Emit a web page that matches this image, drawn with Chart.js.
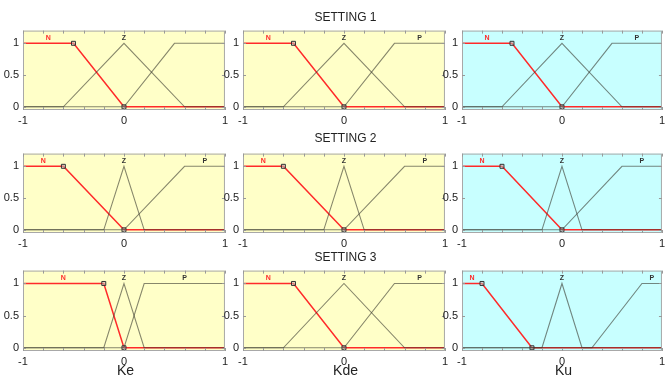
<!DOCTYPE html>
<html>
<head>
<meta charset="utf-8">
<script src="https://cdn.jsdelivr.net/npm/chart.js@4/dist/chart.umd.min.js"></script>
<style>
  body { margin: 0; background: #fff; width: 667px; height: 376px; overflow: hidden; position: relative; font-family: 'Liberation Sans', Arial, sans-serif; }
  canvas { position: absolute; }
  .title { position: absolute; font-size: 12px; color: #222; transform: translate(-50%, -50%); white-space: nowrap; }
  .axt { position: absolute; font-size: 14px; color: #222; transform: translate(-50%, -50%); }
</style>
</head>
<body>
<script>
// axis / labels
const xTicks = [-1, 0, 1];
const yTicks = [0, 0.5, 1];
const xMinor = [-1, -0.8, -0.6, -0.4, -0.2, 0, 0.2, 0.4, 0.6, 0.8, 1];
const settingNames = ['SETTING 1', 'SETTING 2', 'SETTING 3'];
const varNames = ['Ke', 'Kde', 'Ku'];
const mfNames = ['N', 'Z', 'P'];

// membership function shapes (y values)
const nY = [1, 1, 0, 0];
const zY = [0, 0, 1, 0, 0];
const pY = [0, 0, 1, 1];

// x breakpoints per panel
const s1KeN = [-1, -0.5, 0, 1],  s1KeZ = [-1, -0.6, 0, 0.6, 1], s1KeP = [-1, 0, 0.5, 1];
const s1KdeN = [-1, -0.5, 0, 1], s1KdeZ = [-1, -0.6, 0, 0.6, 1], s1KdeP = [-1, 0, 0.5, 1];
const s1KuN = [-1, -0.5, 0, 1],  s1KuZ = [-1, -0.6, 0, 0.6, 1], s1KuP = [-1, 0, 0.5, 1];
const s2KeN = [-1, -0.6, 0, 1],  s2KeZ = [-1, -0.2, 0, 0.2, 1], s2KeP = [-1, 0, 0.6, 1];
const s2KdeN = [-1, -0.6, 0, 1], s2KdeZ = [-1, -0.2, 0, 0.2, 1], s2KdeP = [-1, 0, 0.6, 1];
const s2KuN = [-1, -0.6, 0, 1],  s2KuZ = [-1, -0.2, 0, 0.2, 1], s2KuP = [-1, 0, 0.6, 1];
const s3KeN = [-1, -0.2, 0, 1],  s3KeZ = [-1, -0.2, 0, 0.2, 1], s3KeP = [-1, 0, 0.2, 1];
const s3KdeN = [-1, -0.5, 0, 1], s3KdeZ = [-1, -0.6, 0, 0.6, 1], s3KdeP = [-1, 0, 0.5, 1];
const s3KuN = [-1, -0.8, -0.3, 1], s3KuZ = [-1, -0.2, 0, 0.2, 1], s3KuP = [-1, 0.3, 0.8, 1];

// which labels are shown (P is missing on the first panel)
const s1KeShown = [true, true, false];

const panels = [
  [s1KeN, s1KeZ, s1KeP, s1KeShown], [s1KdeN, s1KdeZ, s1KdeP], [s1KuN, s1KuZ, s1KuP],
  [s2KeN, s2KeZ, s2KeP], [s2KdeN, s2KdeZ, s2KdeP], [s2KuN, s2KuZ, s2KuP],
  [s3KeN, s3KeZ, s3KeP], [s3KdeN, s3KdeZ, s3KdeP], [s3KuN, s3KuZ, s3KuP]
];

// layout
const colL = [23, 243, 462], colW = [205, 205, 203];
const rowT = [25, 148, 265], rowH = [85, 85, 86];
const titleY = [17, 138, 257];
const bgYellow = '#ffffc8', bgCyan = '#c8ffff';
const grey = 'rgba(55,55,45,0.6)', red = '#ff2a2a';
const padL = 22, padT = 5, padR = 4, padB = 18;

const toPts = (xs, ys) => xs.map((x, i) => ({ x: x, y: ys[i] }));

const frame = {
  id: 'frame',
  beforeDraw(chart, args, opts) {
    const a = chart.chartArea, c = chart.ctx;
    c.save();
    c.fillStyle = opts.bg;
    c.fillRect(a.left, a.top, a.right - a.left, a.bottom - a.top);
    c.restore();
  },
  afterDraw(chart, args, opts) {
    const a = chart.chartArea, c = chart.ctx;
    const xs = chart.scales.x, ys = chart.scales.y;
    c.save();
    c.strokeStyle = '#a8a8a8';
    c.lineWidth = 1;
    c.strokeRect(a.left + 0.5, a.top + 0.5, a.right - a.left - 1, a.bottom - a.top - 1);
    c.strokeStyle = '#999';
    c.beginPath();
    xMinor.forEach(v => {
      const px = Math.round(xs.getPixelForValue(v)) + 0.5;
      c.moveTo(px, a.bottom); c.lineTo(px, a.bottom - 3);
      c.moveTo(px, a.top); c.lineTo(px, a.top + 3);
    });
    yTicks.forEach(v => {
      const py = Math.round(ys.getPixelForValue(v)) + 0.5;
      c.moveTo(a.left, py); c.lineTo(a.left + 3, py);
      c.moveTo(a.right, py); c.lineTo(a.right - 3, py);
    });
    c.stroke();
    // mf labels
    c.font = 'bold 7px "Liberation Sans", Arial, sans-serif';
    c.textAlign = 'center';
    c.textBaseline = 'middle';
    const yl = ys.getPixelForValue(1.09);
    opts.labels.forEach(l => {
      if (!l.show) return;
      c.fillStyle = l.color;
      c.fillText(l.text, xs.getPixelForValue(l.x), yl);
    });
    c.restore();
  }
};

panels.forEach((p, k) => {
  const r = Math.floor(k / 3), col = k % 3;
  const [nx, zx, px] = p;
  const shown = p[3] || [true, true, true];
  const cv = document.createElement('canvas');
  const w = colW[col] + padL + padR, h = rowH[r] + padT + padB;
  cv.width = w; cv.height = h;
  cv.style.left = (colL[col] - padL) + 'px';
  cv.style.top = (rowT[r] - padT) + 'px';
  cv.style.width = w + 'px'; cv.style.height = h + 'px';
  document.body.appendChild(cv);

  new Chart(cv, {
    type: 'line',
    data: {
      datasets: [
        { data: toPts(zx, zY), borderColor: grey, borderWidth: 1.1, pointRadius: 0 },
        { data: toPts(px, pY), borderColor: grey, borderWidth: 1.1, pointRadius: 0 },
        {
          data: toPts(nx, nY), borderColor: red, borderWidth: 1.5,
          pointRadius: [0, 2.8, 2.8, 0], pointStyle: 'rect',
          pointBorderColor: '#333', pointBorderWidth: 1, pointBackgroundColor: 'rgba(200,200,200,0.5)'
        }
      ]
    },
    options: {
      responsive: false,
      animation: false,
      devicePixelRatio: 1,
      layout: { padding: { top: padT, right: padR, left: 0, bottom: 0 } },
      plugins: {
        legend: { display: false },
        tooltip: { enabled: false },
        frame: {
          bg: col === 2 ? bgCyan : bgYellow,
          labels: [
            { text: mfNames[0], x: (nx[0] + nx[1]) / 2, color: red, show: shown[0] },
            { text: mfNames[1], x: zx[2], color: '#333', show: shown[1] },
            { text: mfNames[2], x: (px[2] + px[3]) / 2, color: '#333', show: shown[2] }
          ]
        }
      },
      scales: {
        x: {
          type: 'linear', min: -1, max: 1,
          afterBuildTicks: s => { s.ticks = xTicks.map(v => ({ value: v })); },
          afterFit: s => { s.height = padB; },
          grid: { display: false, drawTicks: false }, border: { display: false },
          ticks: { color: '#222', font: { size: 11, family: 'Liberation Sans' }, padding: 4, maxRotation: 0,
                   callback: v => String(v) }
        },
        y: {
          type: 'linear', min: -0.05, max: 1.2,
          afterBuildTicks: s => { s.ticks = yTicks.map(v => ({ value: v })); },
          afterFit: s => { s.width = padL; },
          grid: { display: false, drawTicks: false }, border: { display: false },
          ticks: { color: '#222', font: { size: 11, family: 'Liberation Sans' }, padding: 4,
                   callback: v => String(v) }
        }
      }
    },
    plugins: [frame]
  });
});

settingNames.forEach((t, i) => {
  const d = document.createElement('div');
  d.className = 'title'; d.textContent = t;
  d.style.left = (colL[1] + colW[1] / 2) + 'px';
  d.style.top = titleY[i] + 'px';
  document.body.appendChild(d);
});
varNames.forEach((t, i) => {
  const d = document.createElement('div');
  d.className = 'axt'; d.textContent = t;
  d.style.left = (colL[i] + colW[i] / 2) + 'px';
  d.style.top = '370px';
  document.body.appendChild(d);
});
</script>
</body>
</html>
